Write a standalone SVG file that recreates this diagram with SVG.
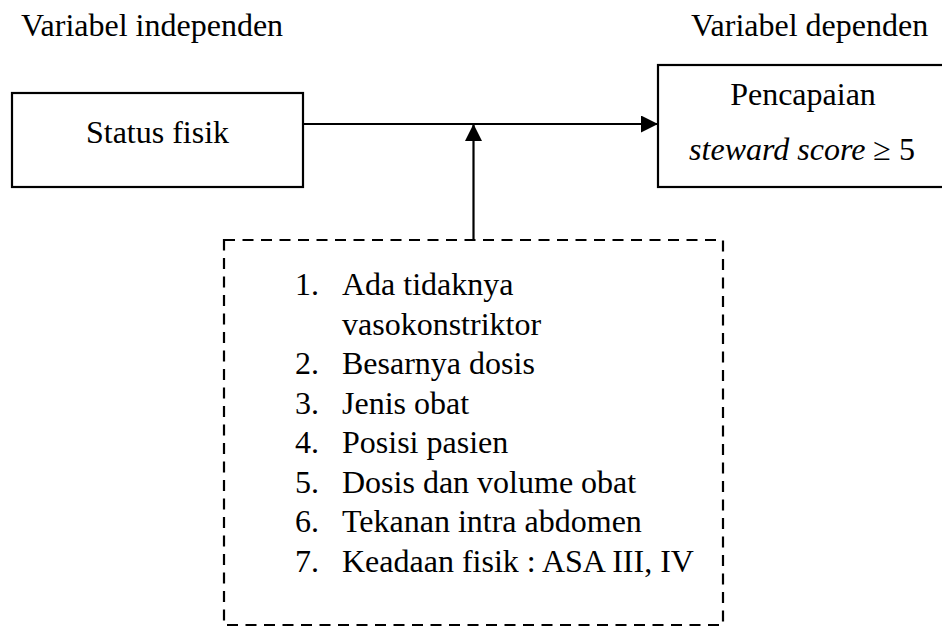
<svg xmlns="http://www.w3.org/2000/svg" width="942" height="628" viewBox="0 0 942 628">
<style>
  text { font-family: "Liberation Serif", "Times New Roman", serif; font-size: 32px; fill: #000; }
  .box { fill: #fff; stroke: #000; stroke-width: 2.2; }
  .dash { fill: #fff; stroke: #000; stroke-width: 2.2; stroke-dasharray: 11 7.5; }
  .conn { stroke: #000; stroke-width: 2.2; fill: none; }
  .it { font-style: italic; }
</style>
<defs>
  <marker id="arrow" markerUnits="userSpaceOnUse" markerWidth="17" markerHeight="17" refX="16" refY="8" orient="auto" viewBox="0 0 16 16">
    <path d="M0,0 L16,8 L0,16 z" fill="#000"/>
  </marker>
</defs>
<rect width="942" height="628" fill="#fff"/>
<text x="21" y="36">Variabel independen</text>
<text x="691" y="36">Variabel dependen</text>
<g id="connectors">
  <line class="conn" x1="303" y1="124" x2="658" y2="124" marker-end="url(#arrow)"/>
  <line class="conn" x1="473.5" y1="240" x2="473.5" y2="124" marker-end="url(#arrow)"/>
</g>
<g id="status-fisik">
  <rect class="box" x="12" y="93" width="291" height="94"/>
  <text x="157.5" y="143" text-anchor="middle">Status fisik</text>
</g>
<g id="pencapaian">
  <rect class="box" x="658" y="65" width="292" height="122"/>
  <text x="803" y="105" text-anchor="middle">Pencapaian</text>
  <text x="802" y="160" text-anchor="middle"><tspan class="it">steward score</tspan> ≥ 5</text>
</g>
<g id="faktor">
  <rect class="dash" x="224" y="240" width="499" height="385"/>
  <text x="295" y="295">1.</text><text x="342" y="295">Ada tidaknya</text>
  <text x="342" y="334.5">vasokonstriktor</text>
  <text x="295" y="374">2.</text><text x="342" y="374">Besarnya dosis</text>
  <text x="295" y="413.5">3.</text><text x="342" y="413.5">Jenis obat</text>
  <text x="295" y="453">4.</text><text x="342" y="453">Posisi pasien</text>
  <text x="295" y="492.5">5.</text><text x="342" y="492.5">Dosis dan volume obat</text>
  <text x="295" y="532">6.</text><text x="342" y="532">Tekanan intra abdomen</text>
  <text x="295" y="571.5">7.</text><text x="342" y="571.5">Keadaan fisik : ASA III, IV</text>
</g>
</svg>
